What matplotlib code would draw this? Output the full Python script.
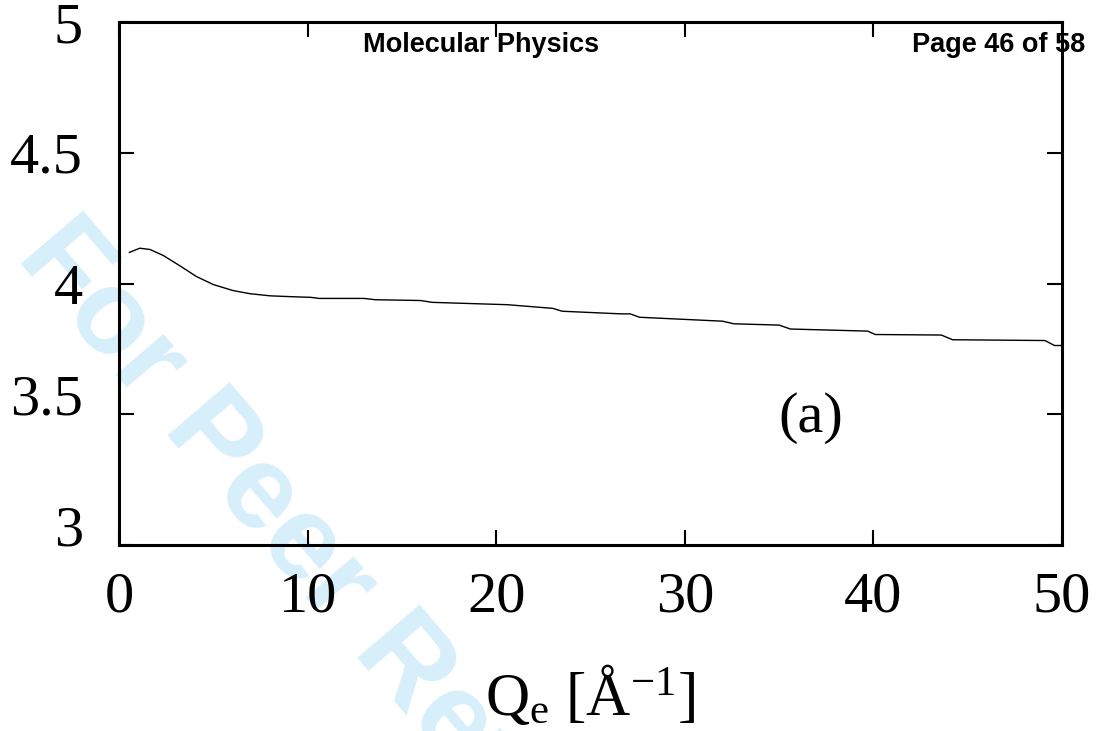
import matplotlib
matplotlib.use('Agg')
import matplotlib.pyplot as plt
from matplotlib import rcParams

rcParams['font.family'] = 'Liberation Serif'
rcParams['mathtext.fontset'] = 'custom'
rcParams['mathtext.rm'] = 'Liberation Serif'
rcParams['mathtext.it'] = 'Liberation Serif:italic'

q_vals = [0.55, 1.1, 1.65, 2.35, 3.2, 4.1, 5.0, 6.05, 6.95, 8.0, 9.0, 10.2, 10.6,
          13.0, 13.6, 16.0, 16.6, 19.7, 20.6, 23.0, 23.5, 26.6, 27.1, 27.6, 32.0,
          32.6, 35.0, 35.6, 39.7, 40.1, 43.6, 44.2, 49.1, 49.6, 50.0]
y_vals = [4.119, 4.135, 4.130, 4.107, 4.069, 4.027, 3.996, 3.973, 3.961, 3.953,
          3.950, 3.947, 3.943, 3.943, 3.938, 3.935, 3.928, 3.921, 3.919, 3.905,
          3.894, 3.884, 3.884, 3.871, 3.856, 3.846, 3.841, 3.826, 3.818, 3.805,
          3.803, 3.785, 3.782, 3.763, 3.763]

x_ticks = [0, 10, 20, 30, 40, 50]
y_ticks = [3, 3.5, 4, 4.5, 5]
y_tick_labels = ['3', '3.5', '4', '4.5', '5']

fig = plt.figure(figsize=(11.03, 7.31), dpi=100)
ax = fig.add_axes([0.1079, 0.2544, 0.8549, 0.7155])
ax.patch.set_facecolor('none')

# watermark behind everything
ax.text(0.0138, 0.6484, 'For Peer Review', transform=fig.transFigure,
        family='Liberation Sans', weight='bold', fontsize=86, color='#D6EFFB',
        rotation=-49.5, rotation_mode='anchor', ha='left', va='baseline',
        zorder=0, clip_on=False)

# page header (sits under the frame)
ax.text(0.329, 0.929, 'Molecular Physics', transform=fig.transFigure,
        family='Liberation Sans', weight='bold', fontsize=19.5,
        zorder=1, clip_on=False)
ax.text(0.827, 0.929, 'Page 46 of 58', transform=fig.transFigure,
        family='Liberation Sans', weight='bold', fontsize=19.5,
        zorder=1, clip_on=False)

ax.plot(q_vals, y_vals, color='black', linewidth=1.0, zorder=3)

ax.set_xlim(0, 50)
ax.set_ylim(3, 5)
ax.set_xticks(x_ticks)
ax.set_yticks(y_ticks)
ax.set_yticklabels(y_tick_labels)
ax.tick_params(direction='in', top=True, right=True, length=11, width=1.5,
               labelsize=42)
ax.tick_params(axis='x', pad=19)
ax.tick_params(axis='y', pad=26)
for s in ax.spines.values():
    s.set_linewidth(2.2)
    s.set_zorder(4)

# lower y labels sit a little higher in the original
ylabs = ax.get_yticklabels()
ylabs[0].set_verticalalignment('baseline')
ylabs[1].set_verticalalignment('baseline')

ax.text(36.7, 3.485, '(a)', fontsize=42, ha='center', va='center')

fig.text(0.535, 0.022, 'Q$_{\\mathrm{e}}$ [Å$^{-1}$]', fontsize=44,
         ha='center', va='baseline')

fig.savefig('out.png', dpi=100)
